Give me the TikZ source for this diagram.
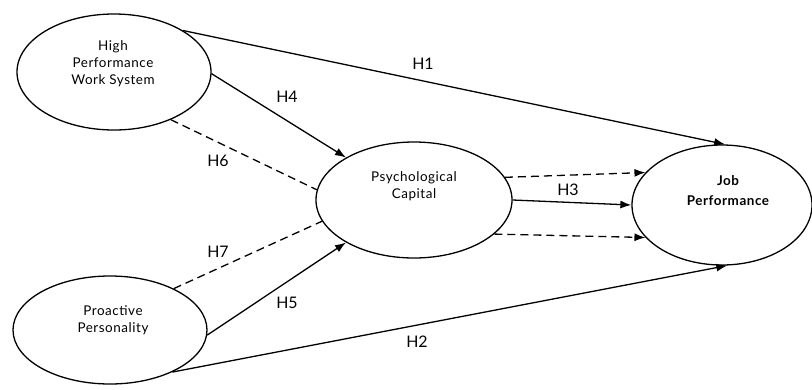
\documentclass[tikz,border=0pt]{standalone}
\usepackage{fontspec}
\setmainfont{Lato}
\newfontfamily\spaced[LetterSpace=4]{Lato}
\usetikzlibrary{arrows.meta,shapes.geometric}
\begin{document}
\begin{tikzpicture}[x=1bp,y=-1bp,
  construct/.style={draw,ellipse,line width=1.3bp,inner sep=0pt},
  ctext/.style={align=center,inner sep=0pt,font=\spaced\fontsize{13.5}{17}\selectfont},
  hlabel/.style={inner sep=0pt,font=\fontsize{16}{18}\selectfont},
  path/.style={line width=1.3bp,-{Latex[length=11bp,width=8bp]}},
  dpath/.style={line width=1.3bp,dash pattern=on 8bp off 5bp},
  ]
\useasboundingbox (0,0) rectangle (812,389);
\node[construct,minimum width=194bp,minimum height=116bp] (hp) at (114,72) {};
\node[construct,minimum width=194bp,minimum height=108bp] (pp) at (110,330) {};
\node[construct,minimum width=196bp,minimum height=116bp] (pc) at (414,200) {};
\node[construct,minimum width=180bp,minimum height=120bp] (jp) at (722,205) {};

\node[ctext] (hpt) at (113,64) {High\\Performance\\Work System};
\node[ctext] (ppt) at (113,320) {Proactive\\Personality};
\node[ctext] (pct) at (414,186) {Psychological\\Capital};
\node[ctext,font=\spaced\fontsize{13.5}{20}\selectfont\bfseries] (jpt) at (728,191) {Job\\Performance};

\draw[path] (hp.31) -- (jp.87);
\draw[path] (hp.-1) -- (pc.148.7);
\draw[dpath] (hp.-40) -- (pc.174);
\draw[dpath] (pp.33) -- (pc.-167);
\draw[path] (pp.-3) -- (pc.-148);
\draw[path] (pp.-34) -- (jp.-85);
\draw[path] (pc.0) -- (jp.180);
\draw[path,dash pattern=on 8bp off 5bp] (pc.14.5) -- (jp.157.6);
\draw[path,dash pattern=on 8bp off 5bp] (pc.-23) -- (jp.-157.6);

\node[hlabel] (h1) at (423,64) {H1};
\node[hlabel] (h4) at (287,97) {H4};
\node[hlabel] (h6) at (218,161) {H6};
\node[hlabel] (h7) at (218,252) {H7};
\node[hlabel] (h5) at (287,303) {H5};
\node[hlabel] (h2) at (417,342) {H2};
\node[hlabel] (h3) at (568,190) {H3};
\end{tikzpicture}
\end{document}
